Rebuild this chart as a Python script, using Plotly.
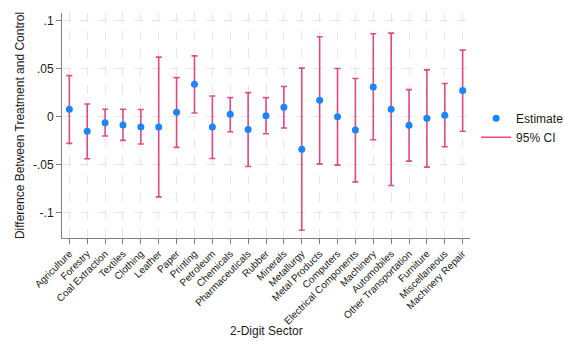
import plotly.graph_objects as go

sectors = ["Agriculture", "Forestry", "Coal Extraction", "Textiles", "Clothing", "Leather",
           "Paper", "Printing", "Petroleum", "Chemicals", "Pharmaceuticals", "Rubber",
           "Minerals", "Metallurgy", "Metal Products", "Computers", "Electrical Components",
           "Machinery", "Automobiles", "Other Transportation", "Furniture", "Miscellaneous",
           "Machinery Repair"]
estimate = [0.0077, -0.0152, -0.0062, -0.0086, -0.0107, -0.0107, 0.0045, 0.0337, -0.0107,
            0.0025, -0.0132, 0.0010, 0.0098, -0.0337, 0.0171, 0.0000, -0.0139, 0.0309,
            0.0077, -0.0090, -0.0017, 0.0014, 0.0271]
ci_high = [0.0427, 0.0132, 0.0077, 0.0077, 0.0074, 0.0619, 0.0406, 0.0632, 0.0215, 0.0198,
           0.0250, 0.0198, 0.0313, 0.0504, 0.0830, 0.0500, 0.0396, 0.0861, 0.0868, 0.0281,
           0.0486, 0.0344, 0.0691]
ci_low = [-0.0277, -0.0437, -0.0201, -0.0246, -0.0284, -0.0833, -0.0319, 0.0038, -0.0434,
          -0.0156, -0.0517, -0.0177, -0.0118, -0.1180, -0.0490, -0.0503, -0.0677, -0.0240,
          -0.0715, -0.0462, -0.0524, -0.0312, -0.0152]
ytick_vals = [-0.1, -0.05, 0, 0.05, 0.1]
ytick_text = ["-.1", "-.05", "0", ".05", ".1"]

BLUE = "#1a85ff"
RED = "rgba(212,17,89,0.75)"
FONT = "Liberation Sans, Arial, sans-serif"

x_idx = list(range(len(sectors)))

fig = go.Figure()
fig.add_trace(go.Scatter(
    x=x_idx, y=estimate, mode="markers",
    marker=dict(size=7, color="rgba(0,0,0,0)"),
    error_y=dict(type="data", symmetric=False,
                 array=[h - e for h, e in zip(ci_high, estimate)],
                 arrayminus=[e - l for e, l in zip(estimate, ci_low)],
                 color=RED, thickness=1.6, width=3),
    showlegend=False, hoverinfo="skip"))
fig.add_trace(go.Scatter(
    x=x_idx, y=estimate, mode="markers", name="Estimate",
    marker=dict(size=7, color=BLUE)))
fig.add_trace(go.Scatter(
    x=[None], y=[None], mode="lines", name="95% CI",
    line=dict(color=RED, width=1.6)))

fig.update_layout(
    width=564, height=341,
    margin=dict(l=62, r=94, t=13, b=103, autoexpand=False),
    paper_bgcolor="white", plot_bgcolor="white",
    font=dict(family=FONT, size=12, color="#1a1a1a"),
    legend=dict(x=1.015, y=0.49, xanchor="left", yanchor="middle",
                font=dict(size=12), tracegroupgap=2, itemwidth=30),
    xaxis=dict(
        tickmode="array", tickvals=x_idx, ticktext=sectors, tickangle=-45,
        tickfont=dict(size=10), range=[-0.41, 22.41], automargin=False,
        showline=True, linecolor="#7f7f7f", linewidth=1,
        ticks="outside", ticklen=5, tickcolor="#7f7f7f",
        showgrid=True, gridcolor="#e6e6e6", griddash="dash", gridwidth=1,
        zeroline=False),
    yaxis=dict(
        tickmode="array", tickvals=ytick_vals, ticktext=ytick_text,
        range=[-0.126, 0.1077], tickfont=dict(size=12), automargin=False,
        showline=True, linecolor="#7f7f7f", linewidth=1,
        ticks="outside", ticklen=5, tickcolor="#7f7f7f",
        showgrid=True, gridcolor="#e6e6e6", griddash="dash", gridwidth=1,
        zeroline=False,
        title=dict(text="Difference Between Treatment and Control",
                   font=dict(size=12), standoff=5)),
    annotations=[dict(text="2-Digit Sector", xref="paper", yref="paper",
                      x=0.5, y=-0.413, xanchor="center", yanchor="middle",
                      showarrow=False, font=dict(size=12))],
)

fig.write_html("out.html", config={"displayModeBar": False},
               post_script="document.body.style.margin='0';document.body.style.overflow='hidden';")
